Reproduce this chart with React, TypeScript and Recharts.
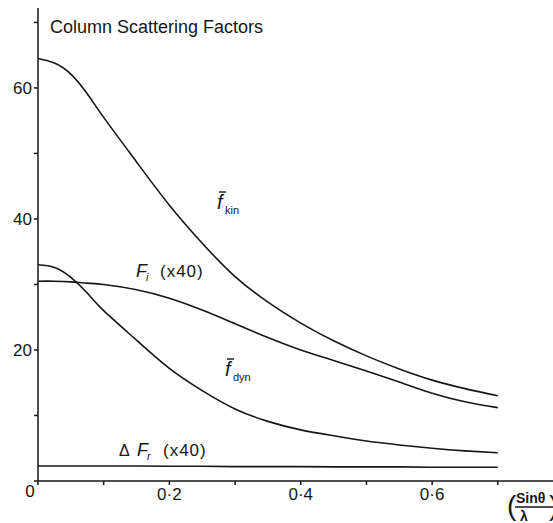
import { LineChart, Line, XAxis, YAxis, Customized } from 'recharts'

// sin(theta)/lambda sample points
const sinThetaOverLambda = [0, 0.025, 0.05, 0.075, 0.1, 0.15, 0.2, 0.25, 0.3, 0.35, 0.4, 0.45, 0.5, 0.55, 0.6, 0.65, 0.7]

const fKin = [64.5, 63.8, 62.1, 59.1, 55.5, 48.7, 42.1, 36.3, 31.2, 27.3, 24.1, 21.4, 19.1, 17.1, 15.4, 14.1, 13.0]
const fiX40 = [30.5, 30.5, 30.4, 30.2, 30.0, 29.2, 27.9, 26.1, 24.0, 21.9, 20.0, 18.4, 16.8, 15.1, 13.4, 12.1, 11.2]
const fDyn = [33.0, 32.6, 31.1, 28.7, 26.0, 21.5, 17.2, 13.8, 11.0, 9.1, 7.8, 6.9, 6.1, 5.5, 5.0, 4.6, 4.3]
const dFrX40 = [2.3, 2.3, 2.3, 2.3, 2.3, 2.3, 2.25, 2.25, 2.2, 2.2, 2.2, 2.15, 2.15, 2.15, 2.1, 2.1, 2.1]

const xTicks = [0, 0.1, 0.2, 0.3, 0.4, 0.5, 0.6, 0.7]
const xTickLabels: Record<string, string> = { '0': '0', '0.2': '0·2', '0.4': '0·4', '0.6': '0·6' }
const yTicks = [0, 10, 20, 30, 40, 50, 60, 70]
const yTickLabels: Record<string, string> = { '20': '20', '40': '40', '60': '60' }

const toSeries = (vals: number[]) => sinThetaOverLambda.map((x, i) => ({ x, v: vals[i] }))

const INK = '#161616'
const FONT = '"Liberation Sans", Arial, sans-serif'

function XTick(props: any) {
  const { x, y, payload } = props
  const label = xTickLabels[String(payload.value)]
  if (!label) return null
  if (payload.value === 0) {
    return (
      <text x={x - 8} y={y + 10} textAnchor="middle" fontSize={17} fill={INK} fontFamily={FONT}>
        {label}
      </text>
    )
  }
  return (
    <text x={x} y={y + 13} textAnchor="middle" fontSize={17} fill={INK} fontFamily={FONT}>
      {label}
    </text>
  )
}

function YTick(props: any) {
  const { x, y, payload } = props
  const label = yTickLabels[String(payload.value)]
  if (!label) return null
  return (
    <text x={x} y={y} dy="0.36em" textAnchor="end" fontSize={17} fill={INK} fontFamily={FONT}>
      {label}
    </text>
  )
}

function BarF({ x, y, sub }: { x: number; y: number; sub: string }) {
  return (
    <g fill={INK} fontFamily={FONT}>
      <line x1={x + 2} x2={x + 9} y1={y - 17} y2={y - 17} stroke={INK} strokeWidth={1.4} />
      <text x={x} y={y} fontSize={20} fontStyle="italic">f</text>
      <text x={x + 8} y={y + 5} fontSize={11}>{sub}</text>
    </g>
  )
}

function Annotations() {
  return (
    <g fill={INK} fontFamily={FONT}>
      <text x={50} y={33} fontSize={18}>Column Scattering Factors</text>
      <BarF x={217} y={209} sub="kin" />
      <BarF x={225} y={376} sub="dyn" />
      <text x={136} y={277} fontSize={18} fontStyle="italic">F</text>
      <text x={146} y={281} fontSize={11} fontStyle="italic">i</text>
      <text x={160} y={277} fontSize={17} letterSpacing={1}>(x40)</text>
      <text x={119} y={456} fontSize={16}>Δ</text>
      <text x={137} y={456} fontSize={18} fontStyle="italic">F</text>
      <text x={147} y={460} fontSize={11} fontStyle="italic">r</text>
      <text x={163} y={456} fontSize={17} letterSpacing={1}>(x40)</text>
      <text x={507} y={515} fontSize={28} fontWeight={300}>(</text>
      <text x={516} y={503} fontSize={14} fontWeight="bold">Sinθ</text>
      <line x1={515} x2={553} y1={507} y2={507} stroke={INK} strokeWidth={1.6} />
      <text x={520} y={521} fontSize={14} fontWeight="bold">λ</text>
      <text x={549} y={515} fontSize={28} fontWeight={300}>)</text>
    </g>
  )
}

const lineProps = {
  dataKey: 'v',
  stroke: INK,
  strokeWidth: 1.6,
  dot: false,
  activeDot: false,
  isAnimationActive: false,
} as const

export default function App() {
  return (
    <div style={{ position: 'absolute', left: 0, top: 0, width: 553, height: 523, background: '#fff' }}>
      <LineChart width={553} height={523} margin={{ top: 8, right: 0, bottom: 0, left: 0 }}>
        <XAxis
          type="number"
          dataKey="x"
          domain={[0, 0.784]}
          allowDataOverflow
          ticks={xTicks}
          tick={<XTick />}
          tickSize={4}
          height={42}
          stroke={INK}
          strokeWidth={1.5}
          tickLine={{ stroke: INK }}
        />
        <YAxis
          type="number"
          domain={[0, 72.2]}
          allowDataOverflow
          ticks={yTicks}
          tick={<YTick />}
          tickSize={4}
          width={38}
          stroke={INK}
          strokeWidth={1.5}
          tickLine={{ stroke: INK }}
        />
        <Line {...lineProps} type="natural" data={toSeries(fKin)} name="f kin" />
        <Line {...lineProps} type="natural" data={toSeries(fiX40)} name="Fi (x40)" />
        <Line {...lineProps} type="natural" data={toSeries(fDyn)} name="f dyn" />
        <Line {...lineProps} type="linear" data={toSeries(dFrX40)} name="dFr (x40)" />
        <Customized component={Annotations} />
      </LineChart>
    </div>
  )
}
